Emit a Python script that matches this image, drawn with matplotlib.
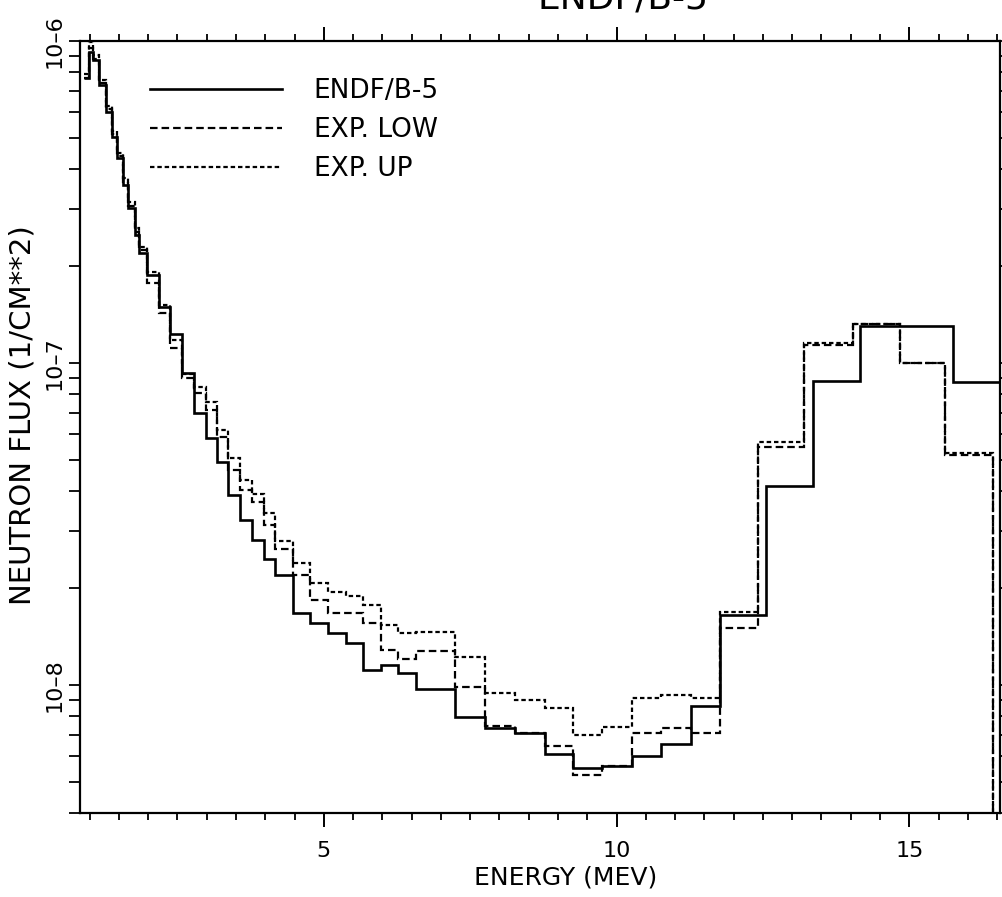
import matplotlib
matplotlib.use("Agg")
import matplotlib.pyplot as plt
from matplotlib.ticker import FixedLocator, MultipleLocator, NullFormatter

# ---- data (energy bin edges in MeV, flux in 1/cm**2) ----
endf_edges = [0.90, 0.99, 1.06, 1.16, 1.28, 1.38, 1.47, 1.57, 1.66, 1.77, 1.85, 1.98,
              2.18, 2.38, 2.58, 2.78, 2.98, 3.18, 3.37, 3.57, 3.77, 3.97, 4.17, 4.47,
              4.77, 5.07, 5.38, 5.67, 5.97, 6.27, 6.58, 7.24, 7.75, 8.26, 8.77, 9.26,
              9.76, 10.26, 10.76, 11.27, 11.77, 12.55, 13.36, 14.16, 15.75, 16.9]
endf_flux = [7.67e-7, 9.24e-7, 8.73e-7, 7.30e-7, 6.02e-7, 5.03e-7, 4.33e-7, 3.57e-7,
             3.03e-7, 2.50e-7, 2.20e-7, 1.88e-7, 1.49e-7, 1.23e-7, 9.31e-8, 6.99e-8,
             5.85e-8, 4.93e-8, 3.89e-8, 3.25e-8, 2.82e-8, 2.46e-8, 2.20e-8, 1.67e-8,
             1.56e-8, 1.45e-8, 1.35e-8, 1.11e-8, 1.15e-8, 1.09e-8, 9.71e-9, 7.95e-9,
             7.35e-9, 7.09e-9, 6.11e-9, 5.52e-9, 5.60e-9, 6.02e-9, 6.56e-9, 8.61e-9,
             1.65e-8, 4.15e-8, 8.79e-8, 1.30e-7, 8.73e-8]

exp_edges = [0.90, 0.99, 1.06, 1.16, 1.28, 1.38, 1.47, 1.57, 1.66, 1.77, 1.85, 1.98,
             2.18, 2.38, 2.58, 2.78, 2.98, 3.18, 3.37, 3.57, 3.77, 3.97, 4.17, 4.47,
             4.77, 5.07, 5.38, 5.67, 5.97, 6.27, 6.58, 7.24, 7.75, 8.26, 8.77, 9.26,
             9.76, 10.26, 10.76, 11.27, 11.77, 12.42, 13.20, 14.04, 14.84, 15.61,
             16.43, 16.9]
exp_low_flux = [7.67e-7, 9.51e-7, 8.79e-7, 7.41e-7, 6.15e-7, 5.14e-7, 4.39e-7, 3.65e-7,
                3.07e-7, 2.55e-7, 2.24e-7, 1.77e-7, 1.43e-7, 1.11e-7, 8.98e-8, 8.07e-8,
                7.14e-8, 5.89e-8, 4.65e-8, 4.03e-8, 3.70e-8, 3.14e-8, 2.65e-8, 2.20e-8,
                1.84e-8, 1.67e-8, 1.67e-8, 1.56e-8, 1.28e-8, 1.20e-8, 1.27e-8, 9.86e-9,
                7.46e-9, 7.09e-9, 6.47e-9, 5.25e-9, 5.60e-9, 7.09e-9, 7.35e-9, 7.09e-9,
                1.50e-8, 5.48e-8, 1.14e-7, 1.32e-7, 1.00e-7, 5.18e-8, 1e-10]
exp_up_flux = [7.90e-7, 9.93e-7, 9.05e-7, 7.57e-7, 6.28e-7, 5.25e-7, 4.49e-7, 3.75e-7,
               3.16e-7, 2.63e-7, 2.29e-7, 1.92e-7, 1.51e-7, 1.18e-7, 9.24e-8, 8.42e-8,
               7.57e-8, 6.19e-8, 5.07e-8, 4.33e-8, 3.92e-8, 3.42e-8, 2.80e-8, 2.39e-8,
               2.07e-8, 1.95e-8, 1.89e-8, 1.77e-8, 1.54e-8, 1.45e-8, 1.46e-8, 1.22e-8,
               9.44e-9, 8.98e-9, 8.48e-9, 6.99e-9, 7.41e-9, 9.11e-9, 9.31e-9, 9.11e-9,
               1.69e-8, 5.68e-8, 1.15e-7, 1.32e-7, 1.00e-7, 5.25e-8, 1e-10]

labels = ["ENDF/B-5", "EXP. LOW", "EXP. UP"]
x_major = [5, 10, 15]
y_major = [1e-8, 1e-7, 1e-6]
y_major_labels = ["10\u20138", "10\u20137", "10\u20136"]

W, H = 1002, 897
fig = plt.figure(figsize=(W / 100, H / 100), dpi=100)
ax = fig.add_axes([80 / W, 1 - 813 / H, 920 / W, 772 / H])
ax.set_yscale("log")

ax.stairs(endf_flux, endf_edges, baseline=None, color="black", lw=1.9, label=labels[0])
ax.stairs(exp_low_flux, exp_edges, baseline=None, color="black", lw=1.6,
          linestyle=(0, (3.4, 1.8)), label=labels[1])
ax.stairs(exp_up_flux, exp_edges, baseline=None, color="black", lw=1.6,
          linestyle=(0, (2.0, 1.3)), label=labels[2])

ax.set_xlim(0.835, 16.55)
ax.set_ylim(4.0e-9, 1.0e-6)

ax.xaxis.set_major_locator(FixedLocator(x_major))
ax.xaxis.set_minor_locator(MultipleLocator(0.5))
ax.set_xticklabels([str(v) for v in x_major])
ax.set_yticks(y_major)
ax.set_yticklabels(y_major_labels)
ax.yaxis.set_minor_formatter(NullFormatter())
for lab in ax.get_yticklabels():
    lab.set_rotation(90)
    lab.set_va("center")
    lab.set_ha("right")

ax.tick_params(axis="x", which="major", direction="out", length=10, width=1.4,
               top=True, bottom=True, labelsize=16, pad=10)
ax.tick_params(axis="x", which="minor", direction="out", length=5, width=1.3,
               top=True, bottom=True)
ax.tick_params(axis="y", which="both", direction="out", length=8, width=1.3,
               left=True, right=True, labelsize=16, pad=3)
for s in ax.spines.values():
    s.set_linewidth(1.6)

ax.set_xlabel("ENERGY (MEV)", fontsize=18, va="center")
ax.xaxis.set_label_coords((566 - 80) / 920, -(878 - 813) / 772)
ax.set_ylabel("NEUTRON FLUX (1/CM**2)", fontsize=21, va="center")
ax.yaxis.set_label_coords((23 - 80) / 920, 1 - (415 - 41) / 772)

ax.legend(loc="upper left", bbox_to_anchor=((150 - 80) / 920, 1 - (78 - 41) / 772),
          frameon=False, fontsize=19, handlelength=5.0, handletextpad=1.2,
          labelspacing=0.5, borderpad=0, borderaxespad=0)

fig.text(623 / W, 1 - 9 / H, "ENDF/B-5", ha="center", va="baseline", fontsize=26)

fig.savefig("out.png", dpi=100)
